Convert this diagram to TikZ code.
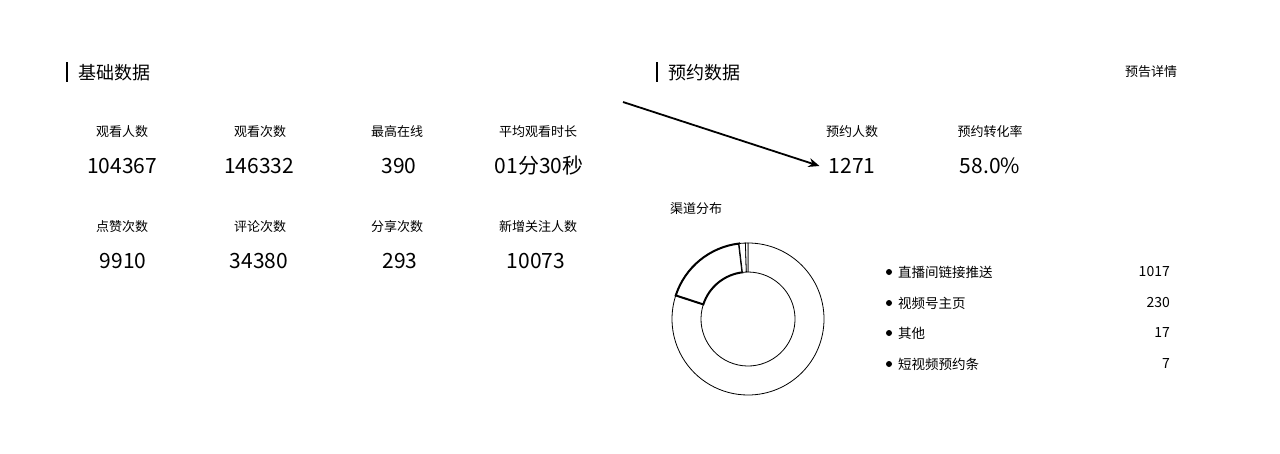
\documentclass[tikz,border=0pt]{standalone}
\usepackage{fontspec}
\setmainfont{Noto Sans CJK SC}
\usetikzlibrary{arrows.meta}
\begin{document}
\begin{tikzpicture}[x=1pt,y=-1pt,
 hdr/.style={font=\fontsize{18}{18}\selectfont, anchor=west, inner sep=0pt},
 lbl/.style={font=\fontsize{13}{13}\selectfont, inner sep=0pt},
 val/.style={font=\fontsize{21}{21}\selectfont, inner sep=0pt},
 leg/.style={font=\fontsize{13.5}{14}\selectfont, anchor=west, inner sep=0pt},
 legnum/.style={font=\fontsize{14}{14}\selectfont, anchor=east, inner sep=0pt},
 bullet/.style={circle, fill=black, inner sep=0pt, minimum size=6pt},
 bar/.style={line width=1.6pt},
 seg/.style={draw=black, fill=white, line width=0.8pt},
 segbold/.style={draw=black, fill=white, line width=2pt}]
\useasboundingbox (0,0) rectangle (1280,453);
\fill[white] (0,0) rectangle (1280,453);

% headers
\draw[bar] (67,62) -- (67,82);
\node[hdr] (h1) at (78,73) {基础数据};
\draw[bar] (657,62) -- (657,82);
\node[hdr] (h2) at (668,73) {预约数据};
\node[lbl] (detail) at (1151,72) {预告详情};

% basic stats
\node[lbl] (l1) at (122,132) {观看人数};
\node[val] (v1) at (122,166) {104367};
\node[lbl] (l2) at (260,132) {观看次数};
\node[val] (v2) at (259,166) {146332};
\node[lbl] (l3) at (397,132) {最高在线};
\node[val] (v3) at (399,166) {390};
\node[lbl] (l4) at (538,132) {平均观看时长};
\node[val] (v4) at (539,166) {01分30秒};
\node[lbl] (l5) at (122,227) {点赞次数};
\node[val] (v5) at (123,261) {9910};
\node[lbl] (l6) at (260,227) {评论次数};
\node[val] (v6) at (259,261) {34380};
\node[lbl] (l7) at (397,227) {分享次数};
\node[val] (v7) at (400,261) {293};
\node[lbl] (l8) at (538,227) {新增关注人数};
\node[val] (v8) at (536,261) {10073};

% reservation stats
\node[lbl] (r1) at (852,132) {预约人数};
\node[val] (rv1) at (852,166) {1271};
\node[lbl] (r2) at (990,132) {预约转化率};
\node[val] (rv2) at (990,166) {58.0\%};

% arrow
\coordinate (astart) at (623,102);
\draw[line width=1.8pt, -{Stealth[length=11pt,width=9pt]}] (astart) -- ([xshift=-9pt]rv1.west);

% channel distribution
\node[lbl, anchor=west] (ch) at (670,209) {渠道分布};
\begin{scope}[shift={(748,319)}, y=1pt]
 \draw[seg] (90:76) arc[start angle=90, end angle=-198.06, radius=76] -- (-198.06:47) arc[start angle=-198.06, end angle=90, radius=47] -- cycle;
 \draw[segbold] (161.94:76) arc[start angle=161.94, end angle=96.79, radius=76] -- (96.79:47) arc[start angle=96.79, end angle=161.94, radius=47] -- cycle;
 \draw[seg] (96.79:76) arc[start angle=96.79, end angle=91.98, radius=76] -- (91.98:47) arc[start angle=91.98, end angle=96.79, radius=47] -- cycle;
 \draw[seg] (91.98:76) arc[start angle=91.98, end angle=90, radius=76] -- (90:47) arc[start angle=90, end angle=91.98, radius=47] -- cycle;
\end{scope}

% legend
\node[bullet] (b1) at (889,272) {};
\node[leg] (t1) at (898,272) {直播间链接推送};
\node[legnum] (n1) at (1170,272) {1017};
\node[bullet] (b2) at (889,303) {};
\node[leg] (t2) at (898,303) {视频号主页};
\node[legnum] (n2) at (1170,303) {230};
\node[bullet] (b3) at (889,333) {};
\node[leg] (t3) at (898,333) {其他};
\node[legnum] (n3) at (1170,333) {17};
\node[bullet] (b4) at (889,364) {};
\node[leg] (t4) at (898,364) {短视频预约条};
\node[legnum] (n4) at (1170,364) {7};
\end{tikzpicture}
\end{document}
